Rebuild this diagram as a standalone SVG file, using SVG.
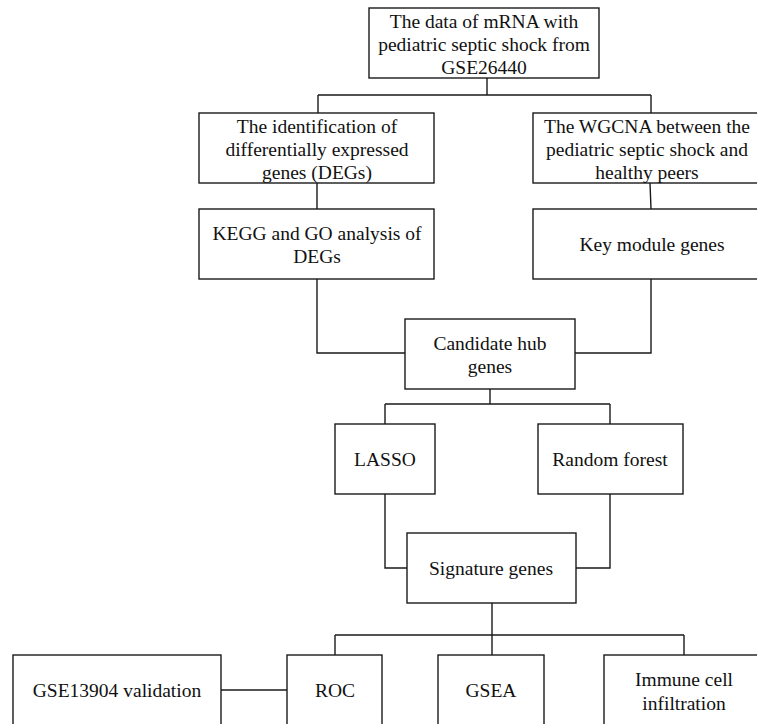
<svg xmlns="http://www.w3.org/2000/svg" width="757" height="724" viewBox="0 0 757 724">
<style>
.box{fill:#fff;stroke:#1a1a1a;stroke-width:1.4}
.ln{fill:none;stroke:#1a1a1a;stroke-width:1.4}
.t{font-family:'Liberation Serif','Times New Roman','DejaVu Serif',serif;font-size:19.5px;fill:#111;text-anchor:middle}
</style>
<rect width="757" height="724" fill="#fff"/>
<g id="connectors">
<path class="ln" d="M487 78V95M318 95H651M318 95V113M651 95V113"/>
<path class="ln" d="M317 183V209M650 183L651 209"/>
<path class="ln" d="M317 279V353H405M651 279V353H575"/>
<path class="ln" d="M490 389V404M385 404H610M385 404V424M610 404V424"/>
<path class="ln" d="M385 494V568H407M610 494V568H576"/>
<path class="ln" d="M492 603V655M335 635H684M335 635V655M684 635V655"/>
<path class="ln" d="M221 690H287"/>
</g>
<g class="t">
<g id="n_data"><rect class="box" x="369" y="8" width="230" height="70"/><text x="484" y="28">The data of mRNA with</text><text x="484" y="51">pediatric septic shock from</text><text x="484" y="74">GSE26440</text></g>
<g id="n_degs"><rect class="box" x="199" y="113" width="235" height="70"/><text x="317" y="133">The identification of</text><text x="317" y="156">differentially expressed</text><text x="317" y="179">genes (DEGs)</text></g>
<g id="n_wgcna"><rect class="box" x="533" y="113" width="230" height="70"/><text x="647" y="133">The WGCNA between the</text><text x="647" y="156">pediatric septic shock and</text><text x="647" y="179">healthy peers</text></g>
<g id="n_kegg"><rect class="box" x="199" y="209" width="235" height="70"/><text x="317" y="240">KEGG and GO analysis of</text><text x="317" y="263">DEGs</text></g>
<g id="n_key"><rect class="box" x="533" y="209" width="230" height="70"/><text x="652" y="251">Key module genes</text></g>
<g id="n_cand"><rect class="box" x="405" y="319" width="170" height="70"/><text x="490" y="350">Candidate hub</text><text x="490" y="373">genes</text></g>
<g id="n_lasso"><rect class="box" x="335" y="424" width="100" height="70"/><text x="385" y="466">LASSO</text></g>
<g id="n_rf"><rect class="box" x="538" y="424" width="145" height="70"/><text x="610" y="466">Random forest</text></g>
<g id="n_sig"><rect class="box" x="407" y="533" width="169" height="70"/><text x="491" y="575">Signature genes</text></g>
<g id="n_gse"><rect class="box" x="13" y="655" width="208" height="80"/><text x="117" y="697">GSE13904 validation</text></g>
<g id="n_roc"><rect class="box" x="287" y="655" width="95" height="80"/><text x="335" y="697">ROC</text></g>
<g id="n_gsea"><rect class="box" x="438" y="655" width="106" height="80"/><text x="491" y="697">GSEA</text></g>
<g id="n_immune"><rect class="box" x="604" y="655" width="160" height="80"/><text x="684" y="686">Immune cell</text><text x="684" y="710">infiltration</text></g>
</g>
</svg>
